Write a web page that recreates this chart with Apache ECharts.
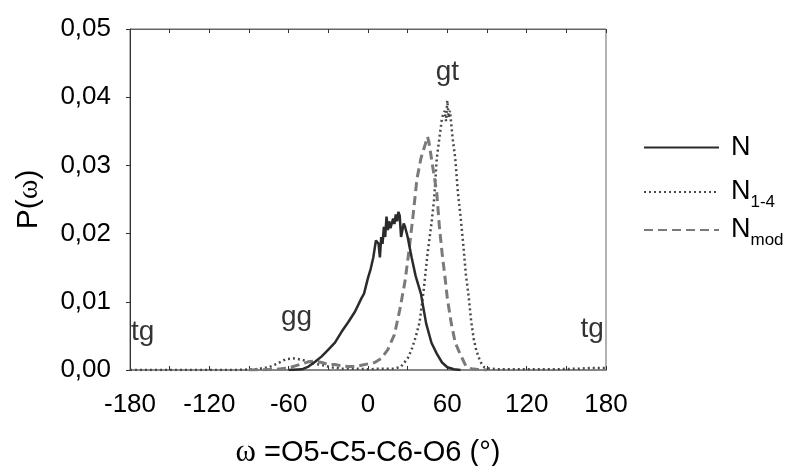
<!DOCTYPE html>
<html>
<head>
<meta charset="utf-8">
<script src="https://cdn.jsdelivr.net/npm/echarts@6/dist/echarts.min.js"></script>
<style>html,body{margin:0;padding:0;background:#fff}#c{width:799px;height:466px}</style>
</head>
<body>
<div id="c"></div>
<script>
// ---- data ----
var xTicks = [-180, -120, -60, 0, 60, 120, 180];
var yTicks = [0, 0.01, 0.02, 0.03, 0.04, 0.05];

var nX = [-60,-50,-45,-40,-35,-30,-25,-20,-15,-10,-5,-3,0,2,4,6,8,9,10,11,12,13,14,15,16,17,18,19,20,21,22,23,24,25,26,27,28,30,33,36,40,44,48,52,56,60,65,70];
var nY = [0,0.0001,0.0005,0.0012,0.002,0.003,0.004,0.0056,0.007,0.0085,0.0105,0.0112,0.0135,0.0148,0.0165,0.019,0.0185,0.0165,0.0195,0.0185,0.021,0.0195,0.0225,0.0205,0.0218,0.0208,0.021,0.0222,0.0214,0.0228,0.0218,0.0232,0.0226,0.0195,0.0205,0.0215,0.021,0.0195,0.0165,0.0138,0.0112,0.0068,0.004,0.0024,0.0011,0.0004,0.0001,0];

var n14X = [-180,-150,-120,-100,-85,-75,-68,-62,-56,-50,-45,-40,-34,-28,-20,-10,0,10,20,25,30,33,36,39,42,45,48,50,52,54,56,58,59,60,61,62,63,64,66,68,70,72,74,76,78,80,82,85,88,92,100,120,140,160,170,180];
var n14Y = [0,0,0,0,0.0001,0.0004,0.001,0.0016,0.0017,0.0015,0.0012,0.0009,0.0007,0.0004,0.0002,0.0002,0.0001,0.0002,0.0002,0.0005,0.0017,0.003,0.0048,0.007,0.0115,0.017,0.0215,0.025,0.031,0.034,0.037,0.038,0.0365,0.0395,0.037,0.038,0.036,0.034,0.031,0.026,0.0225,0.0185,0.014,0.011,0.0072,0.0045,0.0028,0.0012,0.0004,0.0002,0.0001,0.0001,0.0001,0.0002,0.0003,0.0003];

var nmodX = [-90,-70,-60,-55,-50,-45,-40,-35,-30,-25,-20,-15,-10,-5,0,5,10,15,20,24,28,31,34,37,40,42,44,45,46,48,50,52,54,56,58,60,63,66,70,74,78,82,90];
var nmodY = [0,0.0001,0.0003,0.0006,0.0009,0.0012,0.0013,0.0011,0.0008,0.0008,0.0006,0.0005,0.0005,0.0007,0.0009,0.0011,0.0017,0.003,0.0052,0.0088,0.013,0.0175,0.0225,0.028,0.031,0.0323,0.0335,0.0342,0.0335,0.031,0.0285,0.026,0.021,0.0172,0.014,0.0105,0.0068,0.004,0.0022,0.0006,0.0002,0.0001,0];

var annotText = ['gt', 'gg', 'tg', 'tg'];
var annotX = [60, -54, -170.5, 169.5];
var annotY = [0.0436, 0.0077, 0.0055, 0.0059];

var seriesNames = ['N', 'N1-4', 'Nmod'];
var legendLabels = ['{m|N}', '{m|N}{s|1-4}', '{m|N}{s|mod}'];

function zip(xs, ys) { return xs.map(function (x, i) { return [x, ys[i]]; }); }

var font = 'Liberation Sans, Arial, sans-serif';
var legendTops = [129, 168, 206];
var legends = seriesNames.map(function (n, i) {
  return {
    data: [n], left: 638, top: legendTops[i], orient: 'vertical',
    itemWidth: 75, itemHeight: 14, itemGap: 10,
    itemStyle: {opacity: 0},
    selectedMode: false,
    textStyle: {fontSize: 27, color: '#000', fontFamily: font,
      rich: {m: {fontSize: 27, lineHeight: 27, fontFamily: font, color: '#000', padding: [0, 0, 0, 7]},
             s: {fontSize: 17, lineHeight: 17, fontFamily: font, color: '#000', padding: [21, 0, 0, 0]}}},
    formatter: function () { return legendLabels[i]; }
  };
});

var chart = echarts.init(document.getElementById('c'), null, {renderer: 'canvas'});
chart.setOption({
  animation: false,
  backgroundColor: '#fff',
  textStyle: {fontFamily: font},
  grid: {left: 130, right: 193, top: 29, bottom: 96, show: true, borderColor: '#666', borderWidth: 1,
         containLabel: false, outerBoundsMode: 'none'},
  legend: legends,
  xAxis: [{
    type: 'value', min: -180, max: 180, interval: 30, position: 'bottom',
    axisLine: {show: true, onZero: false, lineStyle: {color: '#888', width: 2}},
    axisTick: {show: true, inside: true, length: 4, lineStyle: {color: '#333'}},
    splitLine: {show: false},
    axisLabel: {fontSize: 26, color: '#000', fontFamily: font, margin: 22,
      formatter: function (v) { return xTicks.indexOf(v) >= 0 ? String(v) : ''; }},
    name: '{w|ω} =O5-C5-C6-O6 (°)', nameLocation: 'middle', nameGap: 67,
    nameTextStyle: {fontSize: 29, color: '#000', fontFamily: font,
      rich: {w: {fontSize: 31, fontFamily: 'Liberation Serif, serif', color: '#000'}}}
  }, {
    type: 'value', min: -180, max: 180, interval: 30, position: 'top',
    axisLine: {show: true, onZero: false, lineStyle: {color: '#666', width: 1}},
    axisTick: {show: true, inside: true, length: 4, lineStyle: {color: '#333'}},
    axisLabel: {show: false}, splitLine: {show: false}
  }],
  yAxis: {
    type: 'value', min: 0, max: 0.05, interval: 0.01,
    axisLine: {show: true, onZero: false, lineStyle: {color: '#333', width: 1}},
    axisTick: {show: true, inside: false, length: 4, lineStyle: {color: '#333'}},
    splitLine: {show: false},
    axisLabel: {fontSize: 26, color: '#000', fontFamily: font, margin: 19,
      formatter: function (v) { return v.toFixed(2).replace('.', ','); }},
    name: 'P({w|ω})', nameLocation: 'middle', nameGap: 86,
    nameTextStyle: {fontSize: 30, color: '#000', fontFamily: font,
      rich: {w: {fontSize: 30, fontFamily: 'Liberation Serif, serif', color: '#000'}}}
  },
  series: [{
    name: 'N', type: 'line', data: zip(nX, nY), symbol: 'none', smooth: false,
    lineStyle: {color: '#2b2b2b', width: 2.5, type: 'solid'}, itemStyle: {color: '#2b2b2b'}, z: 3
  }, {
    name: 'N1-4', type: 'line', data: zip(n14X, n14Y), symbol: 'none',
    lineStyle: {color: '#484848', width: 2.5, type: [2, 3]}, itemStyle: {color: '#484848'}, z: 2
  }, {
    name: 'Nmod', type: 'line', data: zip(nmodX, nmodY), symbol: 'none',
    lineStyle: {color: '#7a7a7a', width: 3, type: [9, 5]}, itemStyle: {color: '#7a7a7a'}, z: 2
  }, {
    name: 'labels', type: 'scatter', symbolSize: 1, itemStyle: {color: 'rgba(0,0,0,0)'},
    data: annotX.map(function (x, i) { return [x, annotY[i], annotText[i]]; }),
    label: {show: true, position: 'inside', fontSize: 28, color: '#000', fontFamily: font,
      formatter: function (p) { return p.value[2]; }},
    z: 5
  }]
});
</script>
</body>
</html>
